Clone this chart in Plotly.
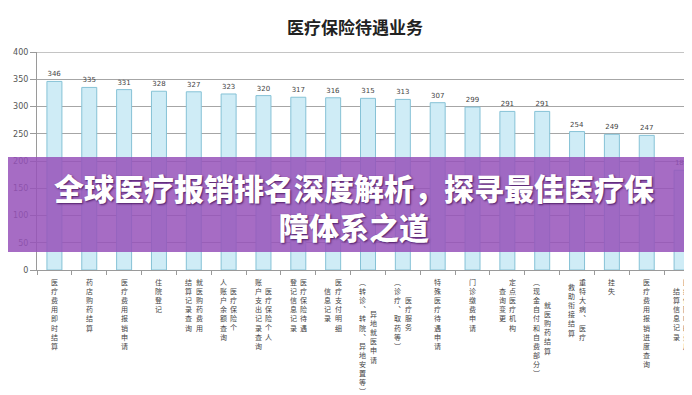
import plotly.graph_objects as go

# ---------------- data ----------------
categories = [
    "医疗费用即时结算",
    "药店购药结算",
    "医疗费用报销申请",
    "住院登记",
    "就医购药费用|结算记录查询",
    "医疗保险个|人账户余额查询",
    "医疗保险个人|账户支出记录查询",
    "医疗保险待遇|登记信息记录",
    "医疗支付明细|信息记录",
    "异地就医申请|（转诊、转院、异地安置等）",
    "医疗服务|（诊疗、取药等）",
    "特殊医疗待遇申请",
    "门诊缴费申请",
    "定点医疗机构|查询变更",
    "就医购药结算|（现金自付和自费部分）",
    "重特大病、医疗|救助衔接结算",
    "挂失",
    "医疗费用报销进度查询",
    "医疗保险临时费用|结算信息记录",
]
values = [346, 335, 331, 328, 327, 323, 320, 317, 316, 315, 313, 307, 299, 291, 291, 254, 249, 247, 183]
y_ticks = [0, 50, 100, 150, 200, 250, 300, 350, 400]
title_text = "医疗保险待遇业务"
banner_lines = ["全球医疗报销排名深度解析，探寻最佳医疗保", "障体系之道"]

# ---------------- figure ----------------
W, H = 692, 395
ML, MR, MT, MB = 29, 1, 44, 133
PH = H - MT - MB
PW = W - ML - MR

def py(p):  # pixel y -> paper y
    return (H - MB - p) / PH

def px(p):  # pixel x -> paper x
    return (p - ML) / PW

names = [c.replace("|", "") for c in categories]
CJK = "Noto Sans CJK SC"
NUM = "DejaVu Sans"

fig = go.Figure(go.Bar(
    x=names, y=values,
    text=[str(v) for v in values],
    textposition="outside",
    constraintext="none",
    cliponaxis=False,
    textfont=dict(family=NUM, size=7, color="#444444"),
    marker=dict(color="#cfecf6", line=dict(color="#86c2d6", width=1)),
    hoverinfo="skip",
))

# vertical category labels (stacked characters, columns right-to-left)
VERT = {"（": "︵", "）": "︶", "、": "︑"}
FS = 7
CH = FS * 1.3
COLW = 10.5
for name, cat in zip(names, categories):
    cols = cat.split("|")
    n = len(cols)
    maxlen = max(len(c) for c in cols)
    for j, col in enumerate(cols):
        xs = ((n - 1) / 2 - j) * COLW
        off = (maxlen - len(col)) / 2 * CH
        fig.add_annotation(
            x=name, xref="x", y=0, yref="paper",
            xshift=xs, yshift=-(6 + off),
            text="<br>".join(VERT.get(ch, ch) for ch in col), showarrow=False,
            xanchor="center", yanchor="top", align="center", borderpad=0,
            font=dict(family=CJK, size=FS, color="#444444"),
        )

# top border line at 400
fig.add_shape(type="line", xref="paper", yref="y", x0=0, x1=1, y0=400, y1=400,
              line=dict(color="#c4c4c4", width=2), layer="above")

# purple banner overlay
fig.add_shape(type="rect", xref="paper", yref="paper",
              x0=-0.1, x1=1.1, y0=py(244), y1=py(149),
              fillcolor="rgba(150,82,186,0.85)", line=dict(width=0), layer="above")

fig.add_annotation(
    x=px(346), xref="paper", y=py(198), yref="paper",
    text="<br>".join(banner_lines), showarrow=False,
    xanchor="center", yanchor="middle", align="center", borderpad=0,
    font=dict(family=CJK, size=30, color="white", weight=900,
              shadow="1px 1px 2px rgba(50,0,70,0.75)"),
)

fig.update_layout(
    width=W, height=H,
    margin=dict(l=ML, r=MR, t=MT, b=MB),
    paper_bgcolor="white", plot_bgcolor="white",
    showlegend=False,
    bargap=0.57,
    title=dict(text=title_text, x=347 / W, xref="container", xanchor="center",
               y=1 - 20 / H, yref="container", yanchor="middle",
               font=dict(family=CJK, size=17, color="#222222", weight="bold")),
    xaxis=dict(
        showticklabels=False, showline=True, linecolor="#9a9a9a", linewidth=1,
        ticks="outside", ticklen=4, tickcolor="#9a9a9a", tickson="boundaries",
        showgrid=False, fixedrange=True,
    ),
    yaxis=dict(
        range=[0, 400], tickvals=y_ticks, ticktext=[str(t) for t in y_ticks],
        showline=True, linecolor="#9a9a9a", linewidth=1,
        ticks="outside", ticklen=6, tickcolor="#9a9a9a",
        gridcolor="#a6a6a6", gridwidth=1, zeroline=False,
        tickfont=dict(family=NUM, size=8, color="#555555"),
        fixedrange=True,
    ),
)

fig.write_html("out.html")
